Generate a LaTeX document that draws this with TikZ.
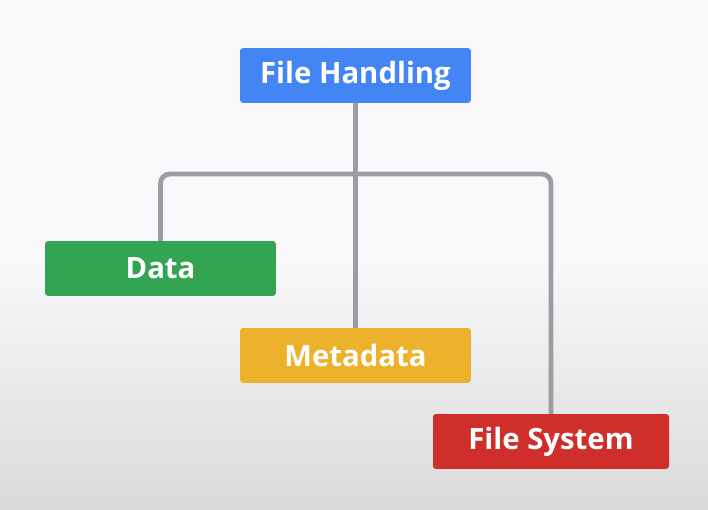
\documentclass[tikz,border=0pt]{standalone}
\usepackage{fontspec}
\setmainfont{Open Sans}
\usetikzlibrary{positioning}
\definecolor{fhblue}{HTML}{4385F3}
\definecolor{datagreen}{HTML}{33A552}
\definecolor{metayellow}{HTML}{EDB22C}
\definecolor{fsred}{HTML}{CF2E2A}
\definecolor{linkgrey}{HTML}{9C9CA2}
\definecolor{bgtop}{HTML}{F9F9FB}
\definecolor{bgbottom}{HTML}{DADADA}
\tikzset{%
	topic/.style={
		rectangle,
		rounded corners=2pt,
		minimum width=173pt,
		minimum height=41pt,
		text=white,
		font=\fontsize{22}{26}\selectfont\bfseries
	},
	link/.style={
		draw=linkgrey,
		line width=3.6pt,
		rounded corners=7pt
	},
}
\begin{document}
\begin{tikzpicture}[x=0.75pt, y=-0.75pt]
			% Background
			\shade[top color=bgtop, bottom color=bgbottom, middle color=bgtop]
				(0,0) rectangle (708,510);
			\useasboundingbox (0,0) rectangle (708,510);
			
			% Draw the boxes
			\node[topic, fill=fhblue] (fh) at (355.5,75.5) {File Handling};
			\node[topic, fill=datagreen] (data) at (160.5,268.5) {Data};
			\node[topic, fill=metayellow] (meta) at (355.5,355.5) {Metadata};
			\node[topic, fill=fsred, minimum width=177pt] (fs) at (551,441.5) {File System};
			
			% Draw the connectors
			\coordinate (bar) at (355,174);
			\draw[link] (fh.south) -- (meta.north);
			\draw[link] (data.north) |- (bar) -| (fs.north);
			
		\end{tikzpicture}
\end{document}
